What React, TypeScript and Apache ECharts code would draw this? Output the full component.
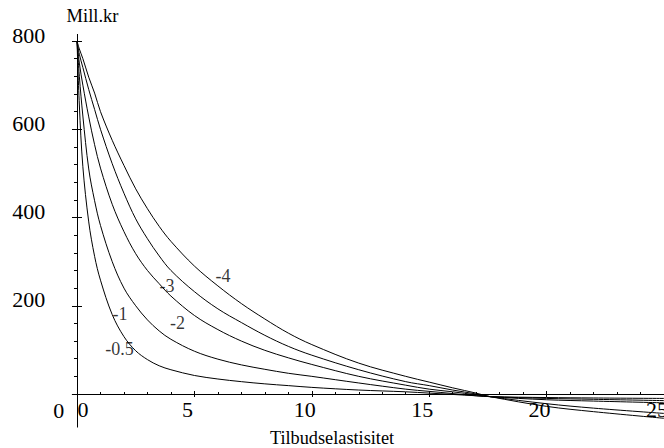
import React, { useEffect, useRef } from "react";
import * as echarts from "echarts";

// Supply elasticity (x) sample points
const xs = [0, 0.1, 0.25, 0.5, 0.75, 1, 1.5, 2, 2.5, 3, 3.5, 4, 5, 6, 7, 8, 9, 10, 12, 14, 15, 16, 17, 17.6, 20, 22, 25];

// Mill.kr for each demand elasticity
const cM05 = [800, 655, 515, 390, 312, 258, 180, 130, 98, 78, 64, 55, 42, 34, 28, 23, 19, 15, 9, 5, 2, -1, -4, -6, -8, -9, -10];
const cM1 = [800, 720, 630, 510, 438, 382, 300, 240, 200, 168, 143, 124, 97, 79, 66, 56, 47, 40, 25, 11, 6, 1, -4, -6, -10, -12, -15];
const cM2 = [800, 750, 700, 628, 565, 512, 430, 368, 318, 280, 250, 222, 178, 146, 120, 99, 82, 67, 40, 20, 11, 5, -2, -6, -13, -16, -20];
const cM3 = [800, 770, 740, 690, 645, 600, 522, 455, 397, 352, 313, 280, 232, 193, 162, 133, 108, 88, 55, 28, 19, 9, 0, -6, -22, -32, -44];
const cM4 = [800, 782, 760, 718, 682, 640, 575, 518, 465, 420, 380, 346, 290, 245, 205, 170, 138, 112, 70, 40, 27, 14, 2, -6, -28, -40, -55];

const curveNames = ["-0.5", "-1", "-2", "-3", "-4"];
const curves = [cM05, cM1, cM2, cM3, cM4];

// curve label positions (data coords)
const labelX = [1.81, 1.83, 4.28, 3.83, 6.22];
const labelY = [101, 182, 162, 245, 267];
const labelText = ["-0.5", "-1", "-2", "-3", "-4"];

const xTickLabels = [0, 5, 10, 15, 20, 25];
const yTickLabels = [0, 200, 400, 600, 800];
const xMinor = Array.from({ length: 26 }, (_, i) => i);
const yMinor = Array.from({ length: 21 }, (_, i) => i * 40);

const FONT = "Liberation Serif, Times New Roman, serif";

export default function App() {
  const ref = useRef<HTMLDivElement>(null);
  useEffect(() => {
    if (!ref.current) return;
    const chart = echarts.init(ref.current, null, { renderer: "svg" });
    const xBase = {
      type: "value",
      min: -0.2,
      max: 25,
      position: "bottom",
      splitLine: { show: false },
    };
    const yBase = {
      type: "value",
      min: -75,
      max: 815,
      position: "left",
      splitLine: { show: false },
    };
    const option: any = {
      animation: false,
      backgroundColor: "#ffffff",
      textStyle: { fontFamily: FONT },
      grid: { left: 72.3, right: 0, top: 34.4, bottom: 20.9, outerBoundsMode: "none" },
      xAxis: [
        {
          ...xBase,
          axisLine: { show: true, onZero: true, lineStyle: { color: "#000", width: 1 } },
          axisTick: { show: true, customValues: xTickLabels, length: 3, inside: false, lineStyle: { color: "#000" } },
          axisLabel: {
            show: true,
            customValues: xTickLabels,
            margin: -29,
            color: "#000",
            fontSize: 22,
            fontFamily: FONT,
            formatter: (v: number) => (v === 0 ? "{z|0}" : `{n|${v}}`),
            rich: {
              n: { fontSize: 22, fontFamily: FONT, color: "#000", padding: [0, 14, 0, 0] },
              z: { fontSize: 22, fontFamily: FONT, color: "#000", padding: [0, 0, 0, 12] },
            },
          },
        },
        {
          ...xBase,
          axisLine: { show: false, onZero: true },
          axisTick: { show: true, customValues: xMinor, length: 2, inside: true, lineStyle: { color: "#000" } },
          axisLabel: { show: false },
        },
        {
          ...xBase,
          axisLine: { show: false, onZero: true },
          axisTick: { show: true, customValues: xTickLabels, length: 3, inside: true, lineStyle: { color: "#000" } },
          axisLabel: { show: false },
        },
      ],
      yAxis: [
        {
          ...yBase,
          axisLine: { show: true, onZero: true, lineStyle: { color: "#000", width: 1 } },
          axisTick: { show: true, customValues: yTickLabels, length: 5, inside: false, lineStyle: { color: "#000" } },
          axisLabel: {
            show: true,
            customValues: yTickLabels,
            margin: 8,
            color: "#000",
            fontSize: 22,
            fontFamily: FONT,
            formatter: (v: number) => (v === 0 ? "{z|0}" : `{n|${v}}`),
            rich: {
              n: { fontSize: 22, fontFamily: FONT, color: "#000", padding: [0, 19, 12, 0] },
              z: { fontSize: 22, fontFamily: FONT, color: "#000", padding: [32, 0, 0, 0] },
            },
          },
        },
        {
          ...yBase,
          axisLine: { show: false, onZero: true },
          axisTick: { show: true, customValues: yMinor, length: 3, inside: false, lineStyle: { color: "#000" } },
          axisLabel: { show: false },
        },
        {
          ...yBase,
          axisLine: { show: false, onZero: true },
          axisTick: { show: true, customValues: yTickLabels, length: 5, inside: true, lineStyle: { color: "#000" } },
          axisLabel: { show: false },
        },
      ],
      series: [
        ...curves.map((c, i) => ({
          name: curveNames[i],
          type: "line",
          xAxisIndex: 0,
          yAxisIndex: 0,
          data: xs.map((x, j) => [x, c[j]]),
          smooth: 0.35,
          symbol: "none",
          lineStyle: { color: "#000", width: 1 },
          silent: true,
        })),
        {
          type: "scatter",
          xAxisIndex: 0,
          yAxisIndex: 0,
          symbol: "circle",
          symbolSize: 1,
          itemStyle: { color: "rgba(0,0,0,0)" },
          data: labelX.map((x, i) => [x, labelY[i], labelText[i]]),
          label: {
            show: true,
            position: "inside",
            formatter: (p: any) => p.value[2],
            color: "#000",
            fontSize: 18,
            fontFamily: FONT,
          },
          silent: true,
        },
      ],
      graphic: [
        {
          type: "text",
          x: 92.5,
          y: 16,
          style: { text: "Mill.kr", fontSize: 18.5, fontFamily: FONT, fill: "#000", align: "center", verticalAlign: "middle" },
        },
        {
          type: "text",
          x: 332,
          y: 438,
          style: { text: "Tilbudselastisitet", fontSize: 18.3, fontFamily: FONT, fill: "#000", align: "center", verticalAlign: "middle" },
        },
      ],
    };
    chart.setOption(option);
    return () => chart.dispose();
  }, []);
  return (
    <div
      ref={ref}
      style={{ position: "fixed", left: 0, top: 0, width: 664, height: 448, background: "#fff" }}
    />
  );
}
